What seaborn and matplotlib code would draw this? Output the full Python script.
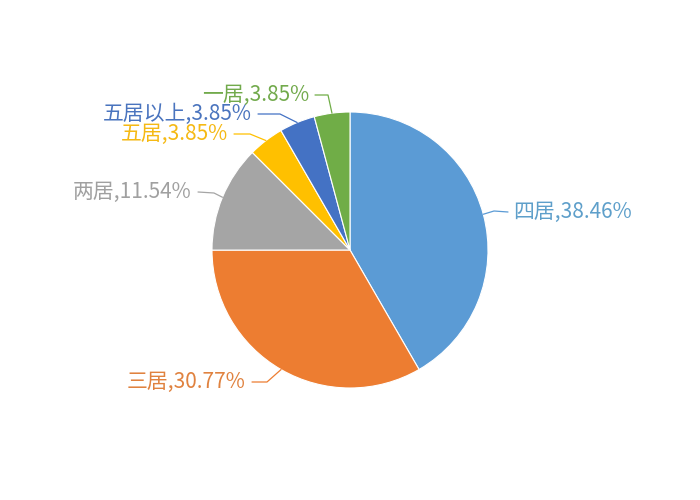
import numpy as np
import seaborn as sns
import matplotlib.pyplot as plt

# DATA
categories = ['四居', '三居', '两居', '五居', '五居以上', '一居']
percents = [38.46, 30.77, 11.54, 3.85, 3.85, 3.85]
colors = ['#5B9BD5', '#ED7D31', '#A5A5A5', '#FFC000', '#4472C4', '#70AD47']
text_colors = ['#5E9FCA', '#E0823F', '#A0A0A0', '#F5B914', '#4A74BE', '#72AA4C']

# label layout in pixel coords (image y down): text anchor, elbow, alignment
text_xy = [(513, 212), (246, 382), (192, 192), (228, 134), (252, 114), (309, 95)]
elbow_xy = [(494, 211), (267, 382), (214, 193), (250, 134), (280, 114), (328, 95)]
aligns = ['left', 'right', 'right', 'right', 'right', 'right']

sns.set_theme(style='white')
plt.rcParams['font.family'] = ['Noto Sans CJK SC', 'DejaVu Sans']

W, H = 700, 500
cx, cy, R = 350, 250, 138

fig = plt.figure(figsize=(7, 5), dpi=100)
ax = fig.add_axes([0, 0, 1, 1])
ax.axis('off')

wedges, _ = ax.pie(percents, colors=colors, startangle=90, counterclock=False,
                   radius=R, center=(cx, H - cy),
                   wedgeprops=dict(edgecolor='white', linewidth=0.8))
ax.set_xlim(0, W)
ax.set_ylim(0, H)
ax.set_aspect('equal')

for w, cat, pct, col, tcol, txy, exy, ha in zip(wedges, categories, percents, colors,
                                                text_colors, text_xy, elbow_xy, aligns):
    mid = np.deg2rad((w.theta1 + w.theta2) / 2)
    edge = (cx + R * np.cos(mid), H - cy + R * np.sin(mid))
    tx, ty = txy[0], H - txy[1]
    start_x = tx + 6 if ha == 'right' else tx - 5
    xs = [start_x, exy[0], edge[0]]
    ys = [ty, H - exy[1], edge[1]]
    ax.plot(xs, ys, color=col, lw=0.9)
    ax.text(tx, ty, f'{cat},{pct:.2f}%', color=tcol, ha=ha, va='center',
            fontsize=15)

fig.savefig('out.png', dpi=100)
plt.close()
